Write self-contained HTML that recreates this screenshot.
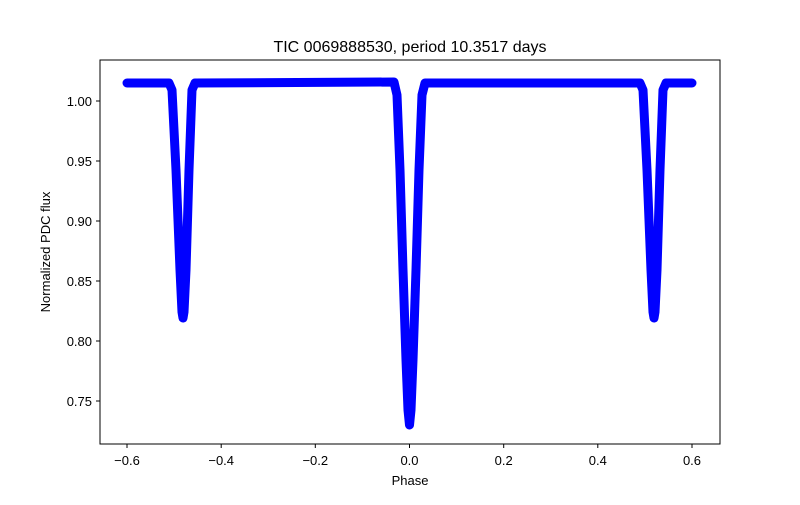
<!DOCTYPE html>
<html><head><style>body{margin:0;background:#fff}</style></head><body>
<svg width="800" height="500" xmlns="http://www.w3.org/2000/svg" font-family="Liberation Sans, DejaVu Sans, sans-serif">
<rect width="800" height="500" fill="#fff"/>
<g stroke="#0000ff" stroke-width="9" fill="none" stroke-linejoin="round" stroke-linecap="round">
<path d="M127,83 L169,83 L172,90 L176,170 L180,270 L182,312 L183,318 L184,312 L186,270 L189,170 L192,90 L195,83 L394,82 L397,95 L400,170 L403,270 L406,360 L408,410 L409.5,425 L411,410 L413,360 L416,270 L419,170 L422,95 L425,83 L640,83 L643,90 L647,170 L651,270 L653,312 L654,318 L655,312 L657,270 L660,170 L663,90 L666,83 L692,83"/>
</g>
<rect x="100" y="60" width="620" height="384" fill="none" stroke="#000" stroke-width="1"/>
<g stroke="#000" stroke-width="1">
<line x1="127" y1="444" x2="127" y2="448"/><line x1="221.2" y1="444" x2="221.2" y2="448"/><line x1="315.3" y1="444" x2="315.3" y2="448"/><line x1="409.5" y1="444" x2="409.5" y2="448"/><line x1="503.7" y1="444" x2="503.7" y2="448"/><line x1="597.8" y1="444" x2="597.8" y2="448"/><line x1="692" y1="444" x2="692" y2="448"/>
<line x1="96" y1="101" x2="100" y2="101"/><line x1="96" y1="161" x2="100" y2="161"/><line x1="96" y1="221" x2="100" y2="221"/><line x1="96" y1="281" x2="100" y2="281"/><line x1="96" y1="341" x2="100" y2="341"/><line x1="96" y1="401" x2="100" y2="401"/>
</g>
<g font-size="13" text-anchor="middle" fill="#000">
<text x="127" y="465">−0.6</text><text x="221.2" y="465">−0.4</text><text x="315.3" y="465">−0.2</text><text x="409.5" y="465">0.0</text><text x="503.7" y="465">0.2</text><text x="597.8" y="465">0.4</text><text x="692" y="465">0.6</text>
</g>
<g font-size="13" text-anchor="end" fill="#000">
<text x="92" y="106">1.00</text><text x="92" y="166">0.95</text><text x="92" y="226">0.90</text><text x="92" y="286">0.85</text><text x="92" y="346">0.80</text><text x="92" y="406">0.75</text>
</g>
<text x="410" y="485" font-size="13" text-anchor="middle">Phase</text>
<text transform="translate(50,252) rotate(-90)" font-size="13" text-anchor="middle">Normalized PDC flux</text>
<text x="410" y="52" font-size="16" text-anchor="middle">TIC 0069888530, period 10.3517 days</text>
</svg>
</body></html>
